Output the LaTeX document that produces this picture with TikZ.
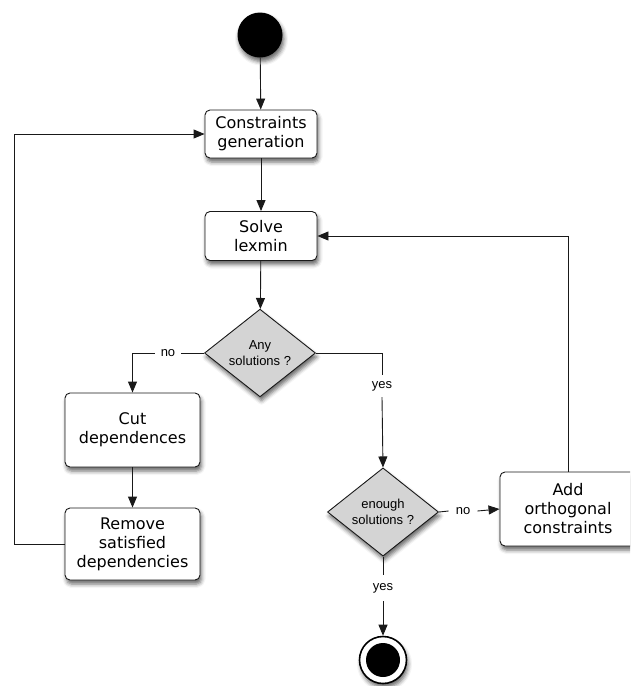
\documentclass[tikz,border=0pt]{standalone}
\usepackage{fontspec}
\setmainfont{DejaVu Sans}
\newfontfamily\labelfont{Liberation Sans}
\usetikzlibrary{shapes.geometric,arrows.meta,shadows.blur}

\begin{document}
\begin{tikzpicture}[x=1pt,y=-1pt,
  softshadow/.style={blur shadow={shadow xshift=1.5pt, shadow yshift=-4pt,
      shadow blur radius=4pt, shadow opacity=60}},
  flowbox/.style={draw=black!90, line width=0.9pt, fill=white, rounded corners=5pt,
      align=center, inner sep=0pt, font=\fontsize{16}{19}\selectfont, softshadow},
  decision/.style={diamond, draw=black!90, line width=0.9pt, fill=black!17,
      minimum width=111pt, minimum height=80pt, inner sep=0pt, align=center,
      font=\labelfont\fontsize{13}{16.5}\selectfont, softshadow},
  guard/.style={inner sep=0pt, font=\labelfont\fontsize{13}{15}\selectfont},
  link/.style={draw=black!90, line width=0.9pt},
  flow/.style={link, -{Triangle[length=11pt,width=9pt]}}]

\path[use as bounding box] (0,0) rectangle (630,686);
\clip (0,0) rectangle (630,686);

% initial and final states
\node[circle, fill=black, minimum size=45pt, inner sep=0pt, softshadow] (start) at (260,35) {};
\node[circle, draw=black, line width=1.6pt, fill=white, minimum size=47pt, inner sep=0pt, softshadow] (stop) at (383,660) {};
\fill[black] (stop.center) circle (17pt);

% actions
\node[flowbox, minimum width=112pt, minimum height=48pt] (gen) at (261,134) {Constraints\\generation};
\node[flowbox, minimum width=112pt, minimum height=49pt] (solve) at (261,236) {Solve\\lexmin};
\node[flowbox, minimum width=135pt, minimum height=74pt] (cut) at (132.5,430) {Cut\\dependences};
\node[flowbox, minimum width=135pt, minimum height=72pt] (remove) at (132.5,544) {Remove\\satisfied\\dependencies};
\node[flowbox, minimum width=136pt, minimum height=74pt] (add) at (568,509) {Add\\orthogonal\\constraints};

% decisions
\node[decision] (any) at (260,353) {Any\\solutions ?};
\node[decision] (enough) at (383,512) {enough\\solutions ?};

% guard labels
\node[guard, inner xsep=6pt] (no1) at (168,353) {no};
\node[guard, inner ysep=6pt] (yes1) at (382,386) {yes};
\node[guard, inner xsep=7pt] (no2) at (463,511) {no};
\node[guard, inner ysep=8pt] (yes2) at (383,588) {yes};

\coordinate (loopL) at (14,544);
\coordinate (loopR) at (568,236);

% main flow
\draw[flow] (start) -- (gen);
\draw[flow] (gen) -- (solve);
\draw[flow] (solve) -- (any);

% no solution: cut dependences and restart
\draw[link] (any.west) -- (no1.east);
\draw[flow] (no1.west) -| (cut.north);
\draw[flow] (cut) -- (remove);
\draw[flow] (remove.west) -- (loopL) |- (gen.west);

% solutions found
\draw[link] (any.east) -| (yes1.north);
\draw[flow] (yes1.south) -- (enough.north);
\draw[link] (enough.east) -- (no2.west);
\draw[flow] (no2.east) -- (add.west);
\draw[flow] (add.north -| loopR) -- (loopR) -- (solve.east);
\draw[link] (enough.south) -- (yes2.north);
\draw[flow] (yes2.south) -- (stop.north);

\end{tikzpicture}
\end{document}
